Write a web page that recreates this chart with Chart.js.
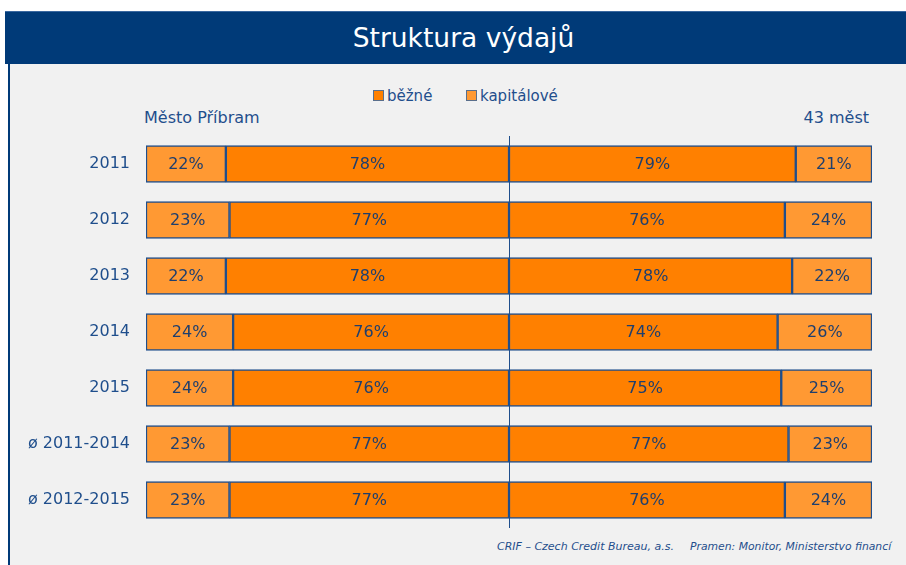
<!DOCTYPE html>
<html>
<head>
<meta charset="utf-8">
<script src="https://cdn.jsdelivr.net/npm/chart.js@4"></script>
<style>
  html, body { margin: 0; padding: 0; background: #fff; }
  #page { position: relative; width: 906px; height: 565px; overflow: hidden; }
  #panel { position: absolute; left: 8px; top: 11px; width: 898px; height: 554px;
           background: #f1f1f1; border-left: 2px solid #003a78; box-sizing: border-box; }
  #titlebar { position: absolute; left: 5px; top: 11px; width: 901px; height: 53px;
              background: #003a78; border-top: 1px solid #3a68a0; box-sizing: border-box;
              color: #fff; font: 26.5px 'DejaVu Sans', sans-serif;
              text-align: center; line-height: 52px; padding-left: 16px; }
  .txt { position: absolute; color: #1f4e8c; font-family: 'DejaVu Sans', sans-serif; white-space: nowrap; }
  .box { display: inline-block; width: 9px; height: 9px; border: 1px solid #5a6f8c; margin-right: 3px; vertical-align: 0px; }
  .foot { position: absolute; top: 540px; color: #1f4e8c; font: italic 10.8px 'DejaVu Sans', sans-serif; white-space: nowrap; }
  canvas { position: absolute; left: 0; top: 0; }
</style>
</head>
<body>
<div id="page">
  <div id="panel"></div>
  <div id="titlebar">Struktura výdajů</div>
  <div class="txt" style="left:373px; top:87px; font-size:15px;"><span class="box" style="background:#ff8000"></span>běžné</div>
  <div class="txt" style="left:466px; top:87px; font-size:15px;"><span class="box" style="background:#ff9933"></span>kapitálové</div>
  <div class="txt" style="left:144px; top:108px; font-size:16px;">Město Příbram</div>
  <div class="txt" style="right:37px; top:108px; font-size:16px;">43 měst</div>
  <div class="foot" style="left:497px; font-size:11px;">CRIF – Czech Credit Bureau, a.s.</div>
  <div class="foot" style="left:690px;">Pramen: Monitor, Ministerstvo financí</div>
  <canvas id="chart" width="906" height="565"></canvas>
</div>
<script>
// categories and shares (%)
const categories = ['2011', '2012', '2013', '2014', '2015', 'ø 2011-2014', 'ø 2012-2015'];
const mestoBezne = [78, 77, 78, 76, 76, 77, 77];
const mestoKapitalove = [22, 23, 22, 24, 24, 23, 23];
const mestBezne = [79, 76, 78, 74, 75, 77, 76];
const mestKapitalove = [21, 24, 22, 26, 25, 23, 24];

const orange = '#ff8000';
const orangeLight = '#ff9933';
const navy = '#1f4e8c';

const barLabels = {
  id: 'barLabels',
  afterDatasetsDraw(chart) {
    const ctx = chart.ctx;
    ctx.save();
    ctx.font = "16px 'DejaVu Sans', sans-serif";
    ctx.fillStyle = '#1f3f6e';
    ctx.textAlign = 'center';
    ctx.textBaseline = 'middle';
    chart.data.datasets.forEach((ds, i) => {
      chart.getDatasetMeta(i).data.forEach((bar, j) => {
        const v = Math.abs(ds.data[j]);
        const cx = (bar.x + bar.base) / 2;
        ctx.fillText(v + '%', cx, bar.y + 1);
      });
    });
    ctx.restore();
  }
};

const centerLine = {
  id: 'centerLine',
  beforeDatasetsDraw(chart) {
    const { ctx, chartArea, scales } = chart;
    const x = Math.round(scales.x.getPixelForValue(0)) + 0.5;
    ctx.save();
    ctx.strokeStyle = navy;
    ctx.lineWidth = 1;
    ctx.beginPath();
    ctx.moveTo(x, chartArea.top);
    ctx.lineTo(x, chartArea.bottom);
    ctx.stroke();
    ctx.restore();
  }
};

new Chart(document.getElementById('chart'), {
  type: 'bar',
  data: {
    labels: categories,
    datasets: [
      { label: 'běžné', data: mestoBezne.map(v => -v), backgroundColor: orange },
      { label: 'kapitálové', data: mestoKapitalove.map(v => -v), backgroundColor: orangeLight },
      { label: 'běžné 43', data: mestBezne, backgroundColor: orange },
      { label: 'kapitálové 43', data: mestKapitalove, backgroundColor: orangeLight },
    ].map(d => ({ ...d, borderColor: navy, borderWidth: 1.5, borderSkipped: false,
                  barThickness: 37 })),
  },
  options: {
    indexAxis: 'y',
    responsive: false,
    animation: false,
    layout: { padding: { top: 136, right: 34, bottom: 37, left: 0 } },
    plugins: { legend: { display: false }, tooltip: { enabled: false } },
    scales: {
      x: { stacked: true, min: -100, max: 100, display: false },
      y: {
        stacked: true,
        grid: { display: false },
        border: { display: false },
        ticks: { color: navy, font: { family: "'DejaVu Sans', sans-serif", size: 16 }, padding: 8 },
        afterFit(scale) { scale.width = 146; },
      },
    },
  },
  plugins: [centerLine, barLabels],
});
</script>
</body>
</html>
